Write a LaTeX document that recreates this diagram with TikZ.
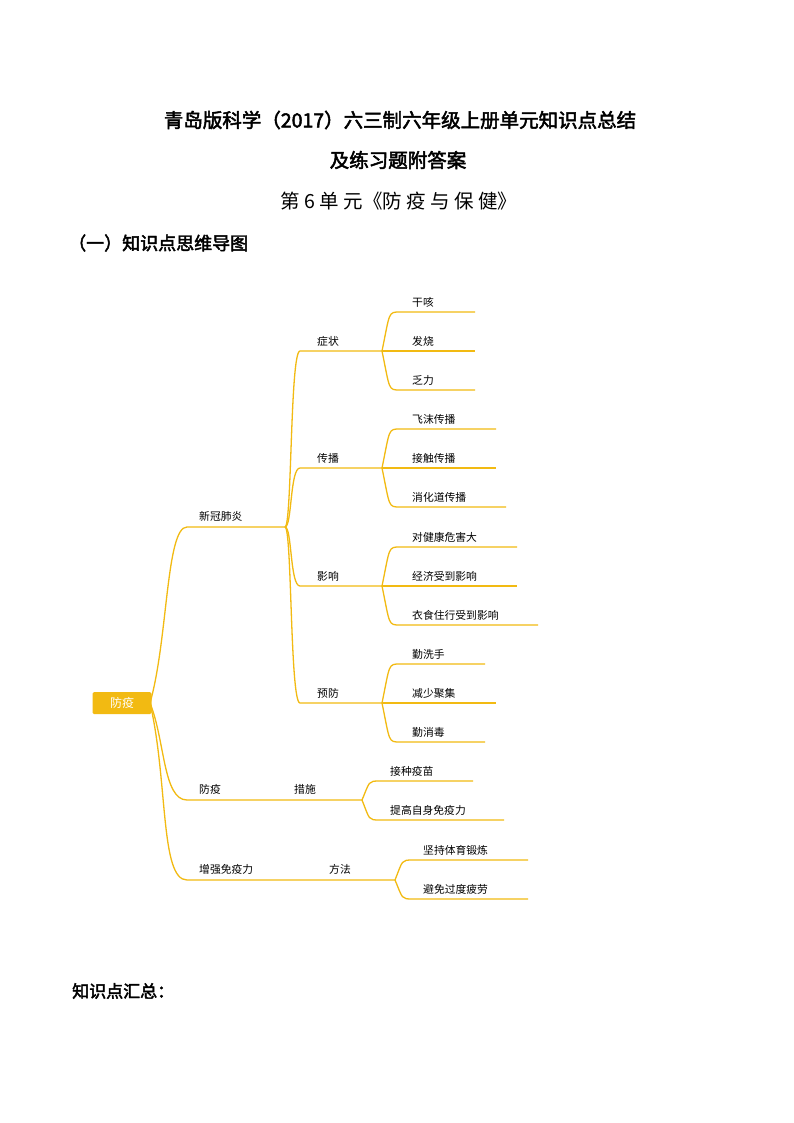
\documentclass[tikz,border=0pt]{standalone}
\usepackage{fontspec}
\setmainfont{Noto Sans CJK SC}
\newfontfamily\cjkb[FakeBold=2.5]{Noto Sans CJK SC}
\newfontfamily\cjkl{Noto Sans CJK SC}
\definecolor{br}{HTML}{F2BA12}
\begin{document}
\begin{tikzpicture}[x=1pt,y=-1pt,
  edge/.style={draw=br,line width=1.3pt},
  lbl/.style={anchor=south west,inner sep=1pt,font=\fontsize{10.8}{12}\selectfont},
  ttl/.style={font=\cjkb\fontsize{19.5}{22}\selectfont,inner sep=0pt}]
\useasboundingbox (0,0) rectangle (794,1123);
\fill[white] (0,0) rectangle (794,1123);
\node[ttl] (t1) at (400,120) {青岛版科学（2017）六三制六年级上册单元知识点总结};
\node[ttl] (t2) at (398,160) {及练习题附答案};
\node[font=\cjkl\fontsize{19.5}{22}\selectfont,inner sep=0pt] (t3) at (399,201) {第 6 单 元《防 疫 与 保 健》};
\node[font=\cjkb\fontsize{18}{20}\selectfont,anchor=west,inner sep=0pt] (h1) at (68,243) {（一）知识点思维导图};
\node[font=\cjkb\fontsize{17}{19}\selectfont,anchor=west,inner sep=0pt] (h2) at (72,991) {知识点汇总：};
% root
\node[fill=br,rounded corners=1.5pt,minimum width=59pt,minimum height=22pt,text=white,font=\fontsize{12}{13}\selectfont] (root) at (122,703) {防疫};
\coordinate (r) at (150,703);
% level 1
\coordinate (a0) at (187,527); \coordinate (a1) at (285,527);
\coordinate (b0) at (187,800); \coordinate (b1) at (362,800);
\coordinate (c0) at (187,880); \coordinate (c1) at (395,880);
\draw[edge] (r) .. controls (168,640) and (166,527) .. (a0) -- (a1);
\draw[edge] (r) .. controls (165,740) and (163,800) .. (b0) -- (b1);
\draw[edge] (r) .. controls (168,780) and (160,880) .. (c0) -- (c1);
\node[lbl] (na) at (198,523) {新冠肺炎};
\node[lbl] (nb) at (198,796) {防疫};
\node[lbl] (nc) at (198,876) {增强免疫力};
\node[lbl] (nb2) at (293,796) {措施};
\node[lbl] (nc2) at (328,876) {方法};
% level 2
\foreach \y/\t/\n in {351/症状/s,468/传播/p,586/影响/i,703/预防/f}{
  \coordinate (\n0) at (300,\y); \coordinate (\n1) at (382,\y);
  \draw[edge] (a1) .. controls (292,527) and (290,\y) .. (\n0) -- (\n1);
  \node[lbl] (l\n) at (316,\y-3) {\t};
}
% leaves
\foreach \p/\y/\e/\t in {s/312/475/干咳,s/351/475/发烧,s/390/475/乏力,
  p/429/496/飞沫传播,p/468/496/接触传播,p/507/506/消化道传播,
  i/547/517/对健康危害大,i/586/517/经济受到影响,i/625/538/衣食住行受到影响,
  f/664/485/勤洗手,f/703/496/减少聚集,f/742/485/勤消毒}{
  \coordinate (e) at (\e,\y);
  \draw[edge] (\p1) .. controls (390,\y) and (388,\y) .. (400,\y) -- (e);
  \node[lbl] at (411,\y-3) {\t};
}
\foreach \y/\e/\t in {781/473/接种疫苗,820/504/提高自身免疫力}{
  \coordinate (e) at (\e,\y);
  \draw[edge] (b1) .. controls (370,\y) and (368,\y) .. (380,\y) -- (e);
  \node[lbl] at (389,\y-3) {\t};
}
\foreach \y/\e/\t in {860/528/坚持体育锻炼,899/528/避免过度疲劳}{
  \coordinate (e) at (\e,\y);
  \draw[edge] (c1) .. controls (403,\y) and (401,\y) .. (413,\y) -- (e);
  \node[lbl] at (422,\y-3) {\t};
}
\end{tikzpicture}
\end{document}
